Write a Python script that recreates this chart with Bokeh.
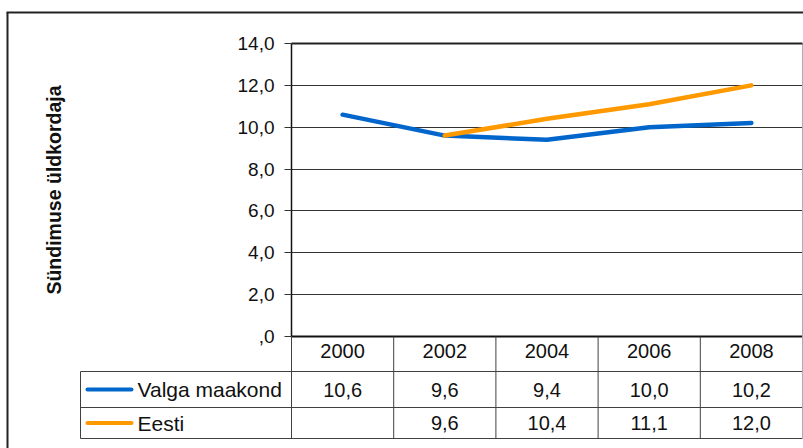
from bokeh.plotting import figure
from bokeh.models import Range1d, FixedTicker
from bokeh.core.properties import value
from bokeh.embed import file_html
from bokeh.resources import INLINE

# ---- data ----
years = ["2000", "2002", "2004", "2006", "2008"]
valga = [10.6, 9.6, 9.4, 10.0, 10.2]
eesti = [None, 9.6, 10.4, 11.1, 12.0]
series_names = ["Valga maakond", "Eesti"]
series_colors = ["#0066CC", "#FF9900"]
y_ticks = [0, 2, 4, 6, 8, 10, 12, 14]
y_tick_labels = [",0", "2,0", "4,0", "6,0", "8,0", "10,0", "12,0", "14,0"]
y_title = "Sündimuse üldkordaja"

FONT = "Liberation Sans"
W, H = 803, 448
OFF = 0  # canvas origin in picture pixels
# frame geometry in picture pixels
FX0, FX1, FY0, FY1 = 291, 802, 43, 336

xs = list(range(len(years)))
p = figure(width=W, height=H, output_backend="svg", toolbar_location=None,
           x_range=Range1d(-0.5, len(years) - 0.5), y_range=Range1d(0, 14),
           min_border_left=FX0 - OFF, min_border_right=W - (FX1 - OFF),
           min_border_top=FY0 - OFF, min_border_bottom=H - (FY1 - OFF),
           background_fill_color="white", border_fill_color="white")
p.outline_line_color = None

xpx = (FX1 - FX0) / len(years)
ypx = (FY1 - FY0) / 14.0


def X(px):
    return -0.5 + (px - FX0) / xpx


def Y(py):
    return (FY1 - py) / ypx


# ---- axes ----
yax = p.yaxis[0]
yax.ticker = FixedTicker(ticks=y_ticks)
yax.major_label_overrides = {t: l for t, l in zip(y_ticks, y_tick_labels)}
yax.minor_tick_line_color = None
yax.major_tick_in = 0
yax.major_tick_out = 7
yax.major_tick_line_color = "#333333"
yax.axis_line_color = "#111111"
yax.axis_line_width = 1.5
yax.major_label_standoff = 10
yax.major_label_text_font = FONT
yax.major_label_text_font_size = "19px"
yax.major_label_text_color = "#111111"
yax.axis_label = y_title
yax.axis_label_text_font = FONT
yax.axis_label_text_font_size = "19.5px"
yax.axis_label_text_font_style = "bold"
yax.axis_label_text_color = "#111111"
yax.axis_label_standoff = 170

xax = p.xaxis[0]
xax.ticker = FixedTicker(ticks=xs)
xax.major_label_overrides = {i: y for i, y in zip(xs, years)}
xax.minor_tick_line_color = None
xax.major_tick_in = 0
xax.major_tick_out = 0
xax.axis_line_color = "#111111"
xax.axis_line_width = 2
xax.major_label_standoff = 7
xax.major_label_text_font = FONT
xax.major_label_text_font_size = "20px"
xax.major_label_text_color = "#111111"

p.xgrid.grid_line_color = None
p.ygrid.ticker = FixedTicker(ticks=y_ticks[1:])
p.ygrid.grid_line_color = "#333333"
p.ygrid.grid_line_width = 1

# ---- series lines ----
for vals, col in zip([valga, eesti], series_colors):
    yv = [float("nan") if v is None else v for v in vals]
    p.line(xs, yv, line_color=col, line_width=4.5, line_cap="round", line_join="round")

# ---- table / decorations (drawn outside frame) ----
ROW_TOP = [371, 407]
ROW_BOT = 438
LEG_X0 = 80
line_col = "#404040"

# horizontal lines of the table
hx0 = [X(LEG_X0)] * 3
hx1 = [X(FX1)] * 3
hy = [Y(ROW_TOP[0]), Y(ROW_TOP[1]), Y(ROW_BOT)]
r = p.segment(hx0, hy, hx1, hy, line_color=line_col, line_width=1)
r.level = "overlay"
# vertical column lines (header + rows)
vx = [i - 0.5 for i in range(len(years))]
r = p.segment(vx, [0] * len(vx), vx, [Y(ROW_BOT)] * len(vx), line_color=line_col, line_width=1)
r.level = "overlay"
# left border of legend column
r = p.segment([X(LEG_X0)], [Y(ROW_TOP[0])], [X(LEG_X0)], [Y(ROW_BOT)], line_color=line_col, line_width=1)
r.level = "overlay"
# right border (light gray)
r = p.segment([X(FX1 + 0.3)], [14], [X(FX1 + 0.3)], [Y(ROW_BOT)],
              line_color="#aaaaaa", line_width=1.5)
r.level = "overlay"
# top frame line
r = p.segment([-0.5], [14], [len(years) - 0.5], [14], line_color="#222222", line_width=2)
r.level = "overlay"
# outer chart border
r = p.segment([X(7), X(6)], [Y(H + 5), Y(12)], [X(7), X(W + 5)], [Y(12), Y(12)],
              line_color="#222222", line_width=2)
r.level = "overlay"

# legend keys and names
row_c = [(ROW_TOP[0] + ROW_TOP[1]) / 2, (ROW_TOP[1] + ROW_BOT) / 2]
for name, col, rc in zip(series_names, series_colors, row_c):
    r = p.segment([X(87)], [Y(rc)], [X(131)], [Y(rc)], line_color=col, line_width=4, line_cap="round")
    r.level = "overlay"
r = p.text([X(137)] * 2, [Y(c) for c in row_c], text=series_names,
           text_font=value(FONT), text_font_size=value("21px"), text_color="#111111",
           text_align="left", text_baseline="middle")
r.level = "overlay"

# values in table
tx, ty, tt = [], [], []
for vals, rc in zip([valga, eesti], row_c):
    for i, v in enumerate(vals):
        if v is None:
            continue
        tx.append(i)
        ty.append(Y(rc))
        tt.append(f"{v:.1f}".replace(".", ","))
r = p.text(tx, ty, text=tt, text_font=value(FONT), text_font_size=value("20px"),
           text_color="#111111", text_align="center", text_baseline="middle")
r.level = "overlay"

open("out.html", "w").write(file_html(p, INLINE))
